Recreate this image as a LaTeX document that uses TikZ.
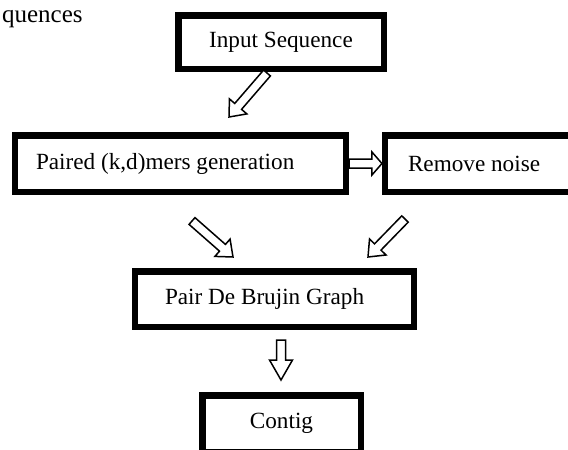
\documentclass[tikz,border=0pt]{standalone}
\usepackage{fontspec}
\setmainfont{Liberation Serif}
\usetikzlibrary{calc}

\tikzset{
    stage/.style={draw, rectangle, line width=3.25pt, minimum height=28.25pt, inner xsep=0pt, font=\fontsize{11.6}{13}\selectfont},
    hollow/.style={draw, line width=0.75pt, fill=white, line join=miter},
}

% hollow block arrow from #2 to #3, head length #1
\newcommand{\hollowarrow}[3][7pt]{%
    \coordinate (neck) at ($(#3)!#1!(#2)$);
    \draw[hollow] ($(#2)!2.25pt!90:(#3)$) -- ($(neck)!2.25pt!90:(#3)$) -- ($(neck)!5.75pt!90:(#3)$) -- (#3)
        -- ($(neck)!5.75pt!-90:(#3)$) -- ($(neck)!2.25pt!-90:(#3)$) -- ($(#2)!2.25pt!-90:(#3)$) -- cycle;
}

\begin{document}
\begin{tikzpicture}[x=0.5pt, y=-0.5pt]
    \useasboundingbox (0,0) rectangle (568,450);

    % cut text of the page
    \node[anchor=base east, inner sep=0pt, font=\fontsize{12.5}{14}\selectfont] (seqtail) at (83,22) {quences};

    % Boxes
    \node[stage, minimum width=102.75pt, minimum height=26.75pt] (input) at (281,42) {Input Sequence};
    \node[stage, align=flush left, inner xsep=10.4pt, text width=144.5pt] (paired) at (180.5,163.5) {Paired (k,d)mers generation};
    \node[stage, align=flush left, inner xsep=11.4pt, text width=83pt] (noise) at (491,163.5) {Remove noise};
    \node[stage, align=flush left, inner xsep=14.9pt, text width=109.5pt, minimum height=27.75pt] (graph) at (274.5,299) {Pair De Brujin Graph};
    \node[stage, minimum width=79.25pt] (contig) at (281.5,423.5) {Contig};

    % Arrow ends
    \coordinate (inputout) at (267,73);
    \coordinate (pairedin) at (229,117);
    \coordinate (pairedout) at (192,221);
    \coordinate (graphin1) at (233,257);
    \coordinate (noiseout) at (405,219);
    \coordinate (graphin2) at (368,257);
    \coordinate (graphout) at (281,340);
    \coordinate (contigin) at (281,380);

    % Arrows
    \hollowarrow{inputout}{pairedin}
    \hollowarrow[5pt]{paired.east}{noise.west}
    \hollowarrow{pairedout}{graphin1}
    \hollowarrow{noiseout}{graphin2}
    \hollowarrow[10pt]{graphout}{contigin}

\end{tikzpicture}
\end{document}
